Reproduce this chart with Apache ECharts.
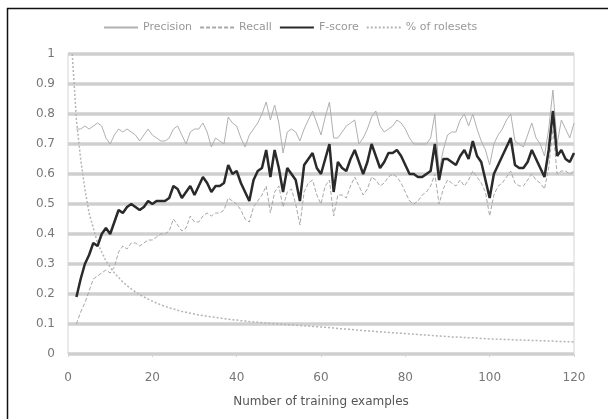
<!DOCTYPE html>
<html><head><meta charset="utf-8">
<script src="https://cdn.jsdelivr.net/npm/echarts@6/dist/echarts.min.js"></script>
<style>html,body{margin:0;padding:0;background:#fff}#c{width:608px;height:419px}</style>
</head><body><div id="c"></div>
<script>
const seriesNames = ['Precision', 'Recall', 'F-score', '% of rolesets'];
const xTicks = [0, 20, 40, 60, 80, 100, 120];
const yTicks = [0, 0.1, 0.2, 0.3, 0.4, 0.5, 0.6, 0.7, 0.8, 0.9, 1];
const xTitle = 'Number of training examples';

// training examples (x) for P/R/F: 2..120
const examplesPRF = [2,3,4,5,6,7,8,9,10,11,12,13,14,15,16,17,18,19,20,21,22,23,24,25,26,27,28,29,30,31,32,33,34,35,36,37,38,39,40,41,42,43,44,45,46,47,48,49,50,51,52,53,54,55,56,57,58,59,60,61,62,63,64,65,66,67,68,69,70,71,72,73,74,75,76,77,78,79,80,81,82,83,84,85,86,87,88,89,90,91,92,93,94,95,96,97,98,99,100,101,102,103,104,105,106,107,108,109,110,111,112,113,114,115,116,117,118,119,120];
// training examples (x) for rolesets: 1..120
const examplesRoles = [1].concat(examplesPRF);

const precision = [0.75,0.75,0.76,0.75,0.76,0.77,0.76,0.72,0.70,0.73,0.75,0.74,0.75,0.74,0.73,0.71,0.73,0.75,0.73,0.72,0.71,0.71,0.72,0.75,0.76,0.73,0.70,0.74,0.75,0.75,0.77,0.74,0.69,0.72,0.71,0.70,0.79,0.77,0.76,0.72,0.69,0.73,0.75,0.77,0.80,0.84,0.78,0.83,0.77,0.67,0.74,0.75,0.74,0.71,0.75,0.78,0.81,0.77,0.73,0.79,0.84,0.72,0.72,0.74,0.76,0.77,0.78,0.70,0.72,0.75,0.79,0.81,0.76,0.74,0.75,0.76,0.78,0.77,0.75,0.72,0.70,0.70,0.70,0.70,0.72,0.80,0.61,0.68,0.73,0.74,0.74,0.78,0.80,0.76,0.80,0.75,0.71,0.68,0.63,0.70,0.73,0.75,0.78,0.80,0.71,0.70,0.69,0.73,0.77,0.72,0.70,0.66,0.75,0.88,0.70,0.78,0.75,0.72,0.77];
const recall = [0.10,0.14,0.17,0.21,0.25,0.26,0.27,0.28,0.27,0.29,0.34,0.36,0.35,0.37,0.37,0.36,0.37,0.38,0.38,0.39,0.40,0.40,0.41,0.45,0.43,0.41,0.42,0.46,0.44,0.44,0.46,0.47,0.46,0.47,0.47,0.48,0.52,0.51,0.50,0.48,0.45,0.44,0.49,0.51,0.53,0.56,0.47,0.54,0.56,0.49,0.54,0.55,0.50,0.43,0.54,0.57,0.58,0.53,0.50,0.56,0.58,0.46,0.53,0.53,0.52,0.56,0.59,0.56,0.53,0.55,0.59,0.58,0.56,0.57,0.59,0.60,0.59,0.57,0.54,0.51,0.50,0.51,0.53,0.54,0.56,0.60,0.50,0.55,0.58,0.57,0.56,0.58,0.56,0.58,0.61,0.59,0.57,0.54,0.46,0.53,0.56,0.57,0.59,0.61,0.57,0.56,0.56,0.58,0.60,0.58,0.57,0.55,0.62,0.75,0.60,0.61,0.61,0.60,0.61];
const fscore = [0.19,0.25,0.30,0.33,0.37,0.36,0.40,0.42,0.40,0.44,0.48,0.47,0.49,0.50,0.49,0.48,0.49,0.51,0.50,0.51,0.51,0.51,0.52,0.56,0.55,0.52,0.54,0.56,0.53,0.56,0.59,0.57,0.54,0.56,0.56,0.57,0.63,0.60,0.61,0.57,0.54,0.51,0.58,0.61,0.62,0.68,0.59,0.68,0.62,0.54,0.62,0.60,0.58,0.51,0.63,0.65,0.67,0.62,0.60,0.65,0.70,0.54,0.64,0.62,0.61,0.65,0.68,0.64,0.60,0.64,0.70,0.66,0.62,0.64,0.67,0.67,0.68,0.66,0.63,0.60,0.60,0.59,0.59,0.60,0.61,0.70,0.58,0.65,0.65,0.64,0.63,0.66,0.68,0.65,0.71,0.66,0.64,0.58,0.52,0.60,0.63,0.66,0.69,0.72,0.63,0.62,0.62,0.64,0.68,0.65,0.62,0.59,0.68,0.81,0.66,0.68,0.65,0.64,0.67];
const rolesets = [1.0,0.78,0.65,0.55,0.47,0.42,0.37,0.34,0.31,0.29,0.27,0.255,0.24,0.228,0.217,0.207,0.198,0.19,0.183,0.176,0.17,0.164,0.159,0.154,0.15,0.146,0.142,0.139,0.136,0.133,0.13,0.128,0.126,0.124,0.122,0.12,0.118,0.116,0.114,0.113,0.111,0.11,0.108,0.107,0.106,0.104,0.103,0.102,0.101,0.1,0.099,0.098,0.097,0.096,0.095,0.094,0.093,0.092,0.091,0.09,0.089,0.088,0.087,0.085,0.084,0.083,0.082,0.081,0.079,0.078,0.077,0.076,0.075,0.074,0.073,0.072,0.071,0.07,0.069,0.068,0.067,0.066,0.065,0.064,0.063,0.062,0.061,0.06,0.059,0.058,0.057,0.057,0.056,0.055,0.054,0.054,0.053,0.052,0.051,0.05,0.05,0.049,0.049,0.048,0.048,0.047,0.047,0.046,0.046,0.045,0.045,0.044,0.044,0.043,0.043,0.042,0.042,0.041,0.041,0.04];

function pairs(xs, ys) { return xs.map((x, i) => [x, ys[i]]); }

const chart = echarts.init(document.getElementById('c'), null, {renderer: 'canvas'});
const font = 'DejaVu Sans';
chart.setOption({
  animation: false,
  backgroundColor: '#fff',
  textStyle: {fontFamily: font},
  grid: {left: 68, right: 34, top: 54, bottom: 65, show: true, borderColor: '#d4d4d4', borderWidth: 1},
  legend: {
    left: 98, top: 17, itemWidth: 34, itemHeight: 10, itemGap: 7,
    itemStyle: {opacity: 0},
    textStyle: {color: '#999', fontSize: 11, fontFamily: font},
    data: seriesNames
  },
  xAxis: {
    type: 'value', min: xTicks[0], max: xTicks[xTicks.length - 1], interval: 20,
    name: xTitle, nameLocation: 'middle', nameGap: 42,
    nameTextStyle: {color: '#555', fontSize: 12, fontFamily: font},
    axisLine: {show: false},
    axisTick: {show: true, length: 3, lineStyle: {color: '#d4d4d4'}},
    splitLine: {show: false},
    axisLabel: {color: '#777', fontSize: 12, margin: 18, fontFamily: font}
  },
  yAxis: {
    type: 'value', min: yTicks[0], max: yTicks[yTicks.length - 1], interval: 0.1,
    axisLine: {show: false}, axisTick: {show: false},
    splitLine: {show: true, lineStyle: {color: '#cfcfcf', width: 3.5}},
    axisLabel: {color: '#777', fontSize: 12, margin: 13, fontFamily: font,
      formatter: v => String(Math.round(v * 10) / 10)}
  },
  series: [
    {name: seriesNames[0], type: 'line', symbol: 'none', data: pairs(examplesPRF, precision),
     lineStyle: {color: '#b0b0b0', width: 1}, itemStyle: {color: '#b0b0b0'}, z: 3},
    {name: seriesNames[1], type: 'line', symbol: 'none', data: pairs(examplesPRF, recall),
     lineStyle: {color: '#a8a8a8', width: 1, type: [4, 2]}, itemStyle: {color: '#a8a8a8'}, z: 3},
    {name: seriesNames[2], type: 'line', symbol: 'none', data: pairs(examplesPRF, fscore),
     lineStyle: {color: '#2a2a2a', width: 2.5}, itemStyle: {color: '#2a2a2a'}, z: 5},
    {name: seriesNames[3], type: 'line', symbol: 'none', data: pairs(examplesRoles, rolesets),
     lineStyle: {color: '#b4b4b4', width: 1.5, type: [2, 2]}, itemStyle: {color: '#b4b4b4'}, z: 4}
  ],
  graphic: [
    {type: 'line', shape: {x1: 7, y1: 8.5, x2: 608, y2: 8.5}, style: {stroke: '#111', lineWidth: 1.5}},
    {type: 'line', shape: {x1: 7.5, y1: 8, x2: 7.5, y2: 419}, style: {stroke: '#111', lineWidth: 1.5}}
  ]
});
</script>
</body></html>
